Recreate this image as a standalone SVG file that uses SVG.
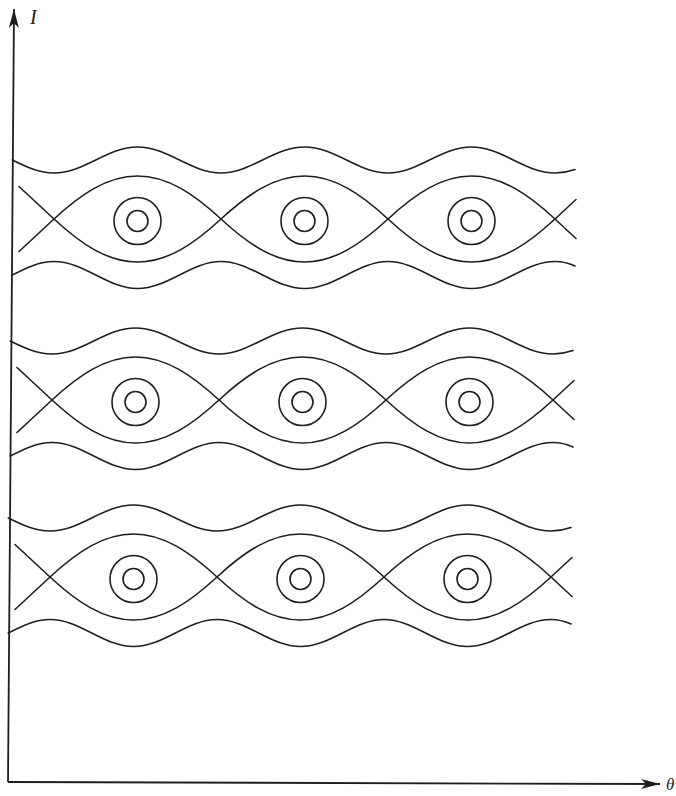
<svg xmlns="http://www.w3.org/2000/svg" width="676" height="796" viewBox="0 0 676 796">
<style>
.c{fill:none;stroke:#1e1e1e;stroke-width:1.6;stroke-linecap:round}
.ax{fill:none;stroke:#1e1e1e;stroke-width:1.8}
.lbl{font-family:"Liberation Serif","DejaVu Serif",serif;font-style:italic;fill:#1e1e1e}
</style>
<defs>
<marker id="arr" markerUnits="userSpaceOnUse" markerWidth="22" markerHeight="14" viewBox="-20 -7 22 14" refX="0" refY="0" orient="auto">
<path d="M0,0 L-19,-5 L-14,0 L-19,5 Z" fill="#1e1e1e"/>
</marker>
<g id="band">
<path class="c" d="M-35 32.5 L0 0 C27 -25 53.5 -43 83.5 -43 C113.5 -43 140 -25 167 0 C194 25 220.5 43 250.5 43 C280.5 43 307 25 334 0 C361 -25 387.5 -43 417.5 -43 C447.5 -43 474 -25 501 0 L522 19.5"/>
<path class="c" d="M-35 -32.5 L0 0 C27 25 53.5 43 83.5 43 C113.5 43 140 25 167 0 C194 -25 220.5 -43 250.5 -43 C280.5 -43 307 -25 334 0 C361 25 387.5 43 417.5 43 C447.5 43 474 25 501 0 L522 -19.5"/>
<path class="c" d="M-41.75 -59 C-28.14 -52.34 -15.11 -46 0 -46 C30.4 -46 53.1 -72 83.5 -72 S136.9 -46 167 -46 S220.1 -72 250.5 -72 S303.9 -46 334 -46 S387.1 -72 417.5 -72 S470.6 -46 501 -46 Q511 -46 521 -49.5"/>
<path class="c" d="M-41.75 56 C-28.14 49.08 -15.11 42.5 0 42.5 C30.4 42.5 53.1 69.5 83.5 69.5 S136.9 42.5 167 42.5 S220.1 69.5 250.5 69.5 S303.9 42.5 334 42.5 S387.1 69.5 417.5 69.5 S470.6 42.5 501 42.5 Q511 42.5 521 47"/>
<circle class="c" cx="83.5" cy="2" r="23.5"/>
<circle class="c" cx="83.5" cy="2" r="10.5"/>
<circle class="c" cx="250.5" cy="2" r="23.5"/>
<circle class="c" cx="250.5" cy="2" r="10.5"/>
<circle class="c" cx="417.5" cy="2" r="23.5"/>
<circle class="c" cx="417.5" cy="2" r="10.5"/>
</g>
</defs>
<rect width="676" height="796" fill="#ffffff"/>
<g id="axes">
<line class="ax" x1="8" y1="782" x2="14" y2="9" marker-end="url(#arr)"/>
<line class="ax" x1="8" y1="782" x2="660" y2="784" marker-end="url(#arr)"/>
<text class="lbl" x="30" y="24" font-size="20">I</text>
<text class="lbl" x="666" y="790" font-size="17">θ</text>
</g>
<g id="band-1"><use href="#band" transform="translate(54,219)"/></g>
<g id="band-2"><use href="#band" transform="translate(52,400)"/></g>
<g id="band-3"><use href="#band" transform="translate(50,577)"/></g>
</svg>
